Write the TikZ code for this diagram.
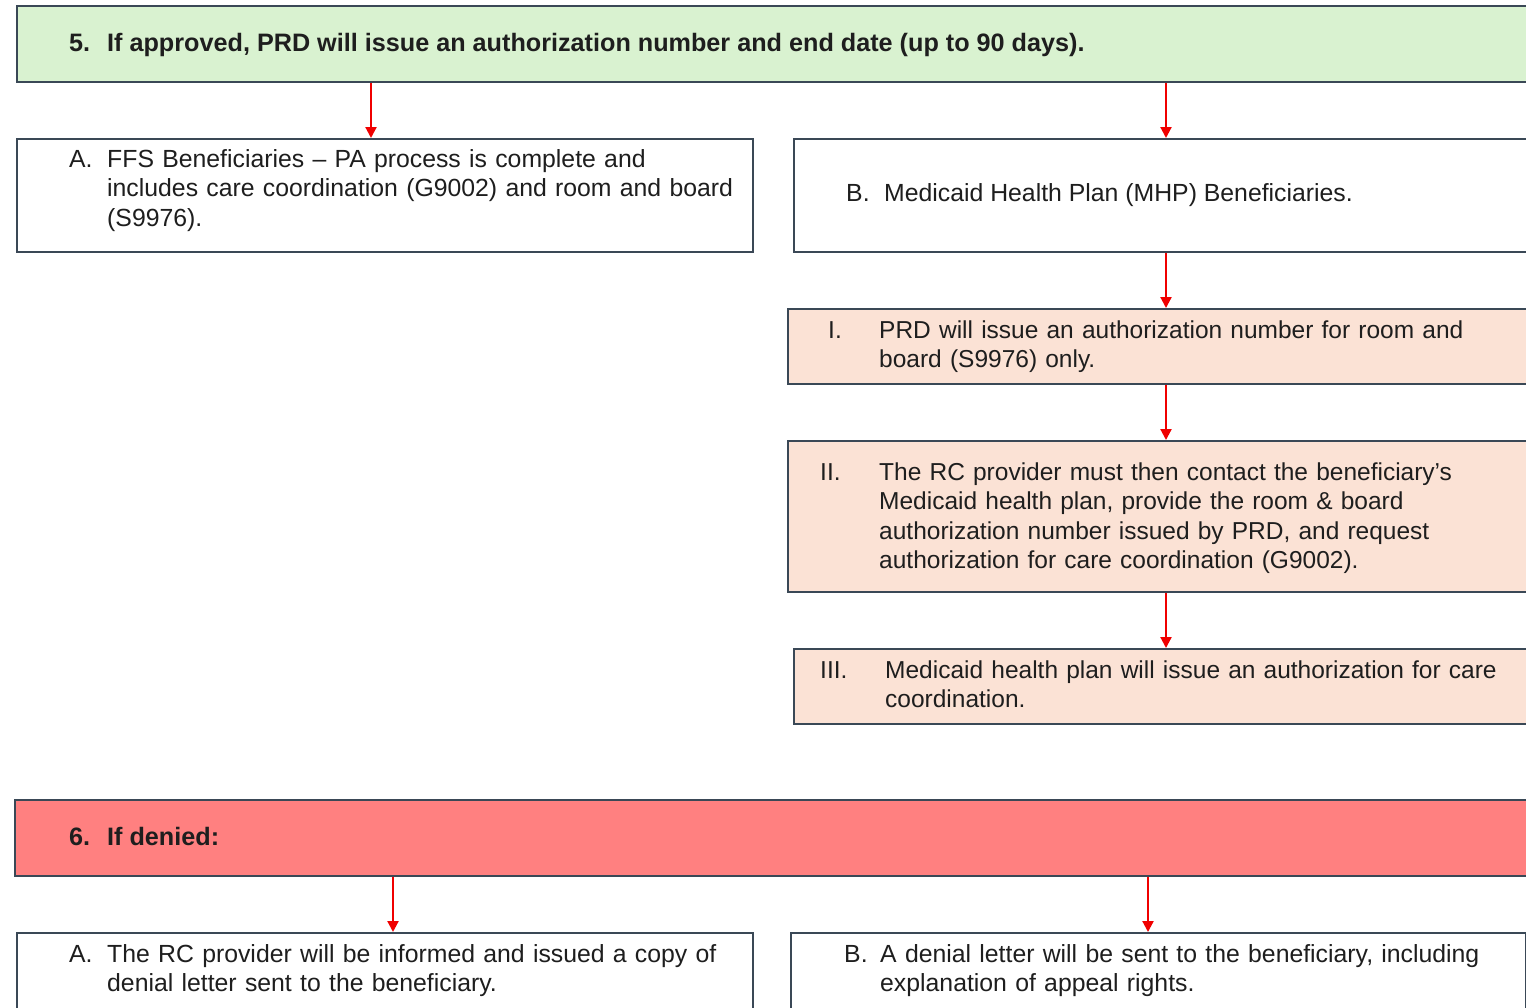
\documentclass[tikz,border=0pt]{standalone}
\usepackage{fontspec}
\setmainfont{Liberation Sans}
\newfontfamily\narrowfont{Liberation Sans}
\usetikzlibrary{arrows.meta}
\definecolor{bordc}{RGB}{58,72,86}
\definecolor{greenf}{RGB}{217,242,208}
\definecolor{peachf}{RGB}{251,226,213}
\definecolor{redf}{RGB}{255,128,128}
\definecolor{txtc}{RGB}{30,30,30}
\definecolor{arrc}{RGB}{240,0,0}
\tikzset{
  box/.style={draw=bordc, line width=1.6pt, anchor=north west, inner sep=0pt},
  lbl/.style={anchor=base west, inner sep=0pt, text=txtc, font=\fontsize{24.8}{29.5}\selectfont},
  nlbl/.style={anchor=base west, inner sep=0pt, text=txtc, font=\narrowfont\fontsize{24.5}{29.5}\selectfont},
  blbl/.style={anchor=base west, inner sep=0pt, text=txtc, font=\bfseries\fontsize{25.2}{29.5}\selectfont},
  body/.style={lbl, text width=720pt, align=left},
  nbody/.style={nlbl, text width=720pt, align=left},
  arr/.style={draw=arrc, line width=2.2pt, -{Triangle[length=11pt,width=11pt]}}
}
\begin{document}
\begin{tikzpicture}[x=1pt,y=-1pt]
\useasboundingbox (0,0) rectangle (1526,1007);
\clip (0,0) rectangle (1526,1007);
% boxes
\node[box, fill=greenf, minimum width=1530pt, minimum height=76pt] (top) at (16,5) {};
\node[box, fill=white, minimum width=736pt, minimum height=113pt] (fa) at (16,138) {};
\node[box, fill=white, minimum width=740pt, minimum height=113pt] (fb) at (793,138) {};
\node[box, fill=peachf, minimum width=745pt, minimum height=75pt] (s1) at (787,308) {};
\node[box, fill=peachf, minimum width=745pt, minimum height=151pt] (s2) at (787,440) {};
\node[box, fill=peachf, minimum width=740pt, minimum height=75pt] (s3) at (793,648) {};
\node[box, fill=redf, minimum width=1520pt, minimum height=76pt] (den) at (14,799) {};
\node[box, fill=white, minimum width=736pt, minimum height=80pt] (da) at (16,932) {};
\node[box, fill=white, minimum width=735pt, minimum height=80pt] (db) at (790,932) {};
% arrow x positions
\coordinate (xa) at (371,0);
\coordinate (xb) at (1166,0);
\coordinate (xda) at (393,0);
\coordinate (xdb) at (1148,0);
% arrows
\draw[arr] (top.south -| xa) -- (fa.north -| xa);
\draw[arr] (top.south -| xb) -- (fb.north -| xb);
\draw[arr] (fb.south -| xb) -- (s1.north -| xb);
\draw[arr] (s1.south -| xb) -- (s2.north -| xb);
\draw[arr] (s2.south -| xb) -- (s3.north -| xb);
\draw[arr] (den.south -| xda) -- (da.north -| xda);
\draw[arr] (den.south -| xdb) -- (db.north -| xdb);
% texts
\node[blbl] (t5n) at (69,51.5) {5.};
\node[blbl] (t5) at (107,51.5) {If approved, PRD will issue an authorization number and end date (up to 90 days).};
\node[lbl] (tan) at (69,167) {A.};
\node[body] (ta) at (107,167) {FFS Beneficiaries – PA process is complete and\\includes care coordination (G9002) and room and board\\(S9976).};
\node[lbl] (tbn) at (846,201) {B.};
\node[lbl] (tb) at (884,201) {Medicaid Health Plan (MHP) Beneficiaries.};
\node[nlbl] (t1n) at (828,338) {I.};
\node[nbody] (t1) at (879,338) {PRD will issue an authorization number for room and\\board (S9976) only.};
\node[nlbl] (t2n) at (820,480) {II.};
\node[nbody] (t2) at (879,480) {The RC provider must then contact the beneficiary’s\\Medicaid health plan, provide the room \& board\\authorization number issued by PRD, and request\\authorization for care coordination (G9002).};
\node[nlbl] (t3n) at (820,678) {III.};
\node[nbody] (t3) at (885,678) {Medicaid health plan will issue an authorization for care\\coordination.};
\node[blbl] (t6n) at (69,845) {6.};
\node[blbl] (t6) at (107,845) {If denied:};
\node[lbl] (dan) at (69,962) {A.};
\node[body] (dta) at (107,962) {The RC provider will be informed and issued a copy of\\denial letter sent to the beneficiary.};
\node[lbl] (dbn) at (844,962) {B.};
\node[body] (dtb) at (880,962) {A denial letter will be sent to the beneficiary, including\\explanation of appeal rights.};
\end{tikzpicture}
\end{document}
